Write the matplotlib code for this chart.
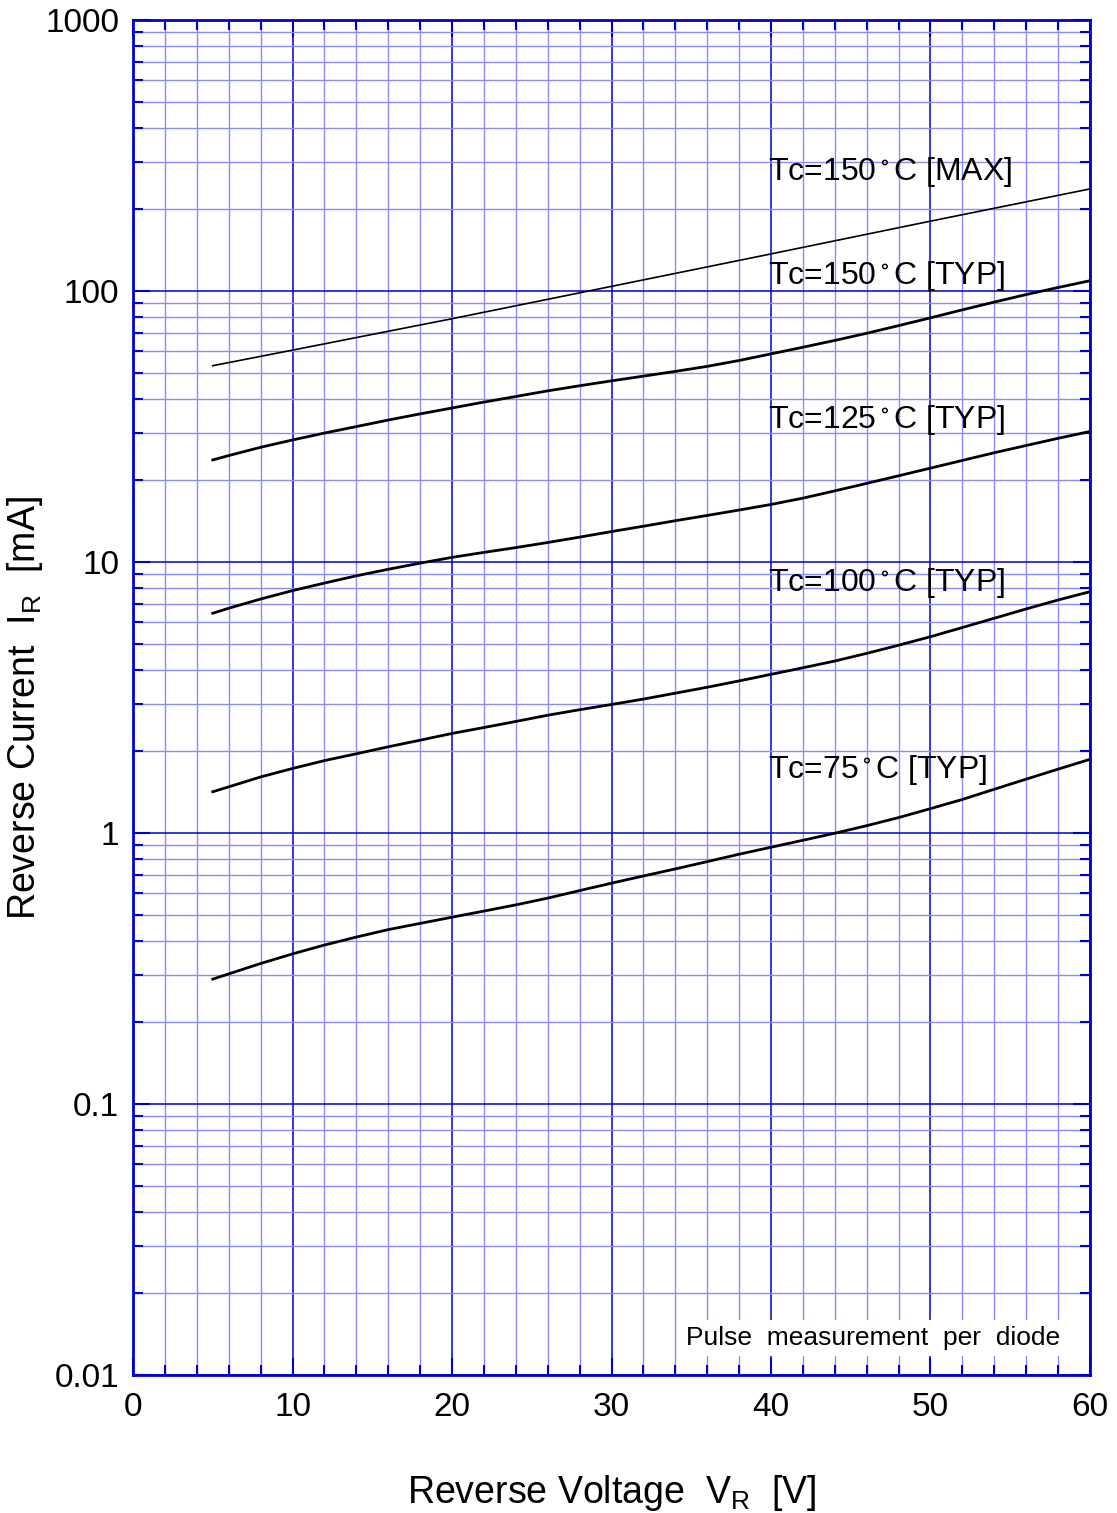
import numpy as np
import matplotlib
matplotlib.use("Agg")
import matplotlib.pyplot as plt
from matplotlib.ticker import MultipleLocator, LogLocator, FixedLocator, NullFormatter

plt.rcParams['font.family'] = ['Liberation Sans', 'DejaVu Sans']
plt.rcParams['mathtext.default'] = 'regular'

# Reverse voltage (V) sample points
vr = [5, 6, 8, 10, 12, 14, 16, 18, 20, 22, 24, 26, 28, 30, 32, 34, 36, 38, 40,
      42, 44, 46, 48, 50, 52, 54, 56, 58, 60]
vr_max = [5, 10, 20, 30, 40, 50, 60]

# Reverse current (mA)
ir_150_max = [53, 60.5, 79, 104, 137, 181, 238]
ir_150_typ = [23.8, 24.7, 26.5, 28.2, 29.9, 31.6, 33.4, 35.2, 37.0, 38.9, 40.8, 42.8, 44.7, 46.6,
              48.5, 50.5, 52.7, 55.4, 58.6, 62.0, 65.7, 69.8, 74.5, 79.6, 85.2, 91.0, 97.0, 103.0, 109.1]
ir_125_typ = [6.47, 6.75, 7.30, 7.84, 8.36, 8.89, 9.40, 9.90, 10.4, 10.85, 11.3, 11.8, 12.35, 12.95,
              13.55, 14.2, 14.85, 15.55, 16.3, 17.2, 18.3, 19.5, 20.8, 22.2, 23.7, 25.3, 26.9, 28.6, 30.3]
ir_100_typ = [1.42, 1.48, 1.61, 1.73, 1.85, 1.96, 2.08, 2.20, 2.33, 2.45, 2.58, 2.72, 2.85, 2.98,
              3.12, 3.28, 3.45, 3.64, 3.85, 4.07, 4.31, 4.60, 4.93, 5.30, 5.73, 6.20, 6.71, 7.24, 7.77]
ir_75_typ = [0.289, 0.302, 0.330, 0.358, 0.386, 0.413, 0.440, 0.464, 0.489, 0.515, 0.543, 0.575,
             0.613, 0.653, 0.694, 0.737, 0.784, 0.835, 0.886, 0.940, 0.998, 1.064, 1.14, 1.23,
             1.33, 1.45, 1.58, 1.72, 1.87]

labels = ["Tc=150$^\\circ$C [MAX]", "Tc=150$^\\circ$C [TYP]", "Tc=125$^\\circ$C [TYP]",
          "Tc=100$^\\circ$C [TYP]", "Tc=75$^\\circ$C [TYP]"]
label_y = [275, 114, 33.4, 8.4, 1.71]

x_ticks = [0, 10, 20, 30, 40, 50, 60]
y_ticks = [0.01, 0.1, 1, 10, 100, 1000]
y_ticklabels = ["0.01", "0.1", "1", "10", "100", "1000"]

major_c = '#0000CC'
minor_c = '#8C8CF2'

fig = plt.figure(figsize=(11.17, 15.13), dpi=100)
ax = fig.add_axes([0.1191, 0.0912, 0.8567, 0.8956])

ax.set_yscale('log')
ax.set_xlim(0, 60)
ax.set_ylim(0.01, 1000)

ax.xaxis.set_major_locator(FixedLocator(x_ticks))
ax.xaxis.set_minor_locator(MultipleLocator(2))
ax.yaxis.set_major_locator(FixedLocator(y_ticks))
ax.yaxis.set_minor_locator(LogLocator(base=10, subs=np.arange(2, 10)))
ax.yaxis.set_minor_formatter(NullFormatter())
ax.set_xticklabels([str(t) for t in x_ticks])
ax.set_yticklabels(y_ticklabels)

ax.grid(which='minor', color=minor_c, linewidth=1.0)
ax.grid(which='major', color=major_c, linewidth=1.1)
ax.set_axisbelow(True)

for s in ax.spines.values():
    s.set_color(major_c)
    s.set_linewidth(2)

ax.tick_params(which='both', direction='in', top=True, right=True, color=major_c,
               labelsize=24, labelcolor='black')
ax.tick_params(which='major', length=12, width=1.5, pad=10)
ax.tick_params(which='minor', length=7, width=1.5)
ax.tick_params(axis='x', which='major', pad=12)

ax.plot(vr_max, ir_150_max, color='black', linewidth=1.2)
for ys in [ir_150_typ, ir_125_typ, ir_100_typ, ir_75_typ]:
    ax.plot(vr, ys, color='black', linewidth=2.0, solid_joinstyle='round')

for lab, yy in zip(labels, label_y):
    ax.text(39.8, yy, lab, fontsize=23, ha='left', va='center', color='black')

ax.text(58.1, 0.0137, "Pulse  measurement  per  diode", fontsize=19, ha='right', va='center',
        bbox=dict(facecolor='white', edgecolor='none', pad=4))

ax.set_xlabel("Reverse Voltage  V$_R$  [V]", fontsize=27, labelpad=36)
ax.set_ylabel("Reverse Current  I$_R$  [mA]", fontsize=27)
ax.yaxis.set_label_coords(-0.092, 0.492)

fig.savefig("out.png", dpi=100)
